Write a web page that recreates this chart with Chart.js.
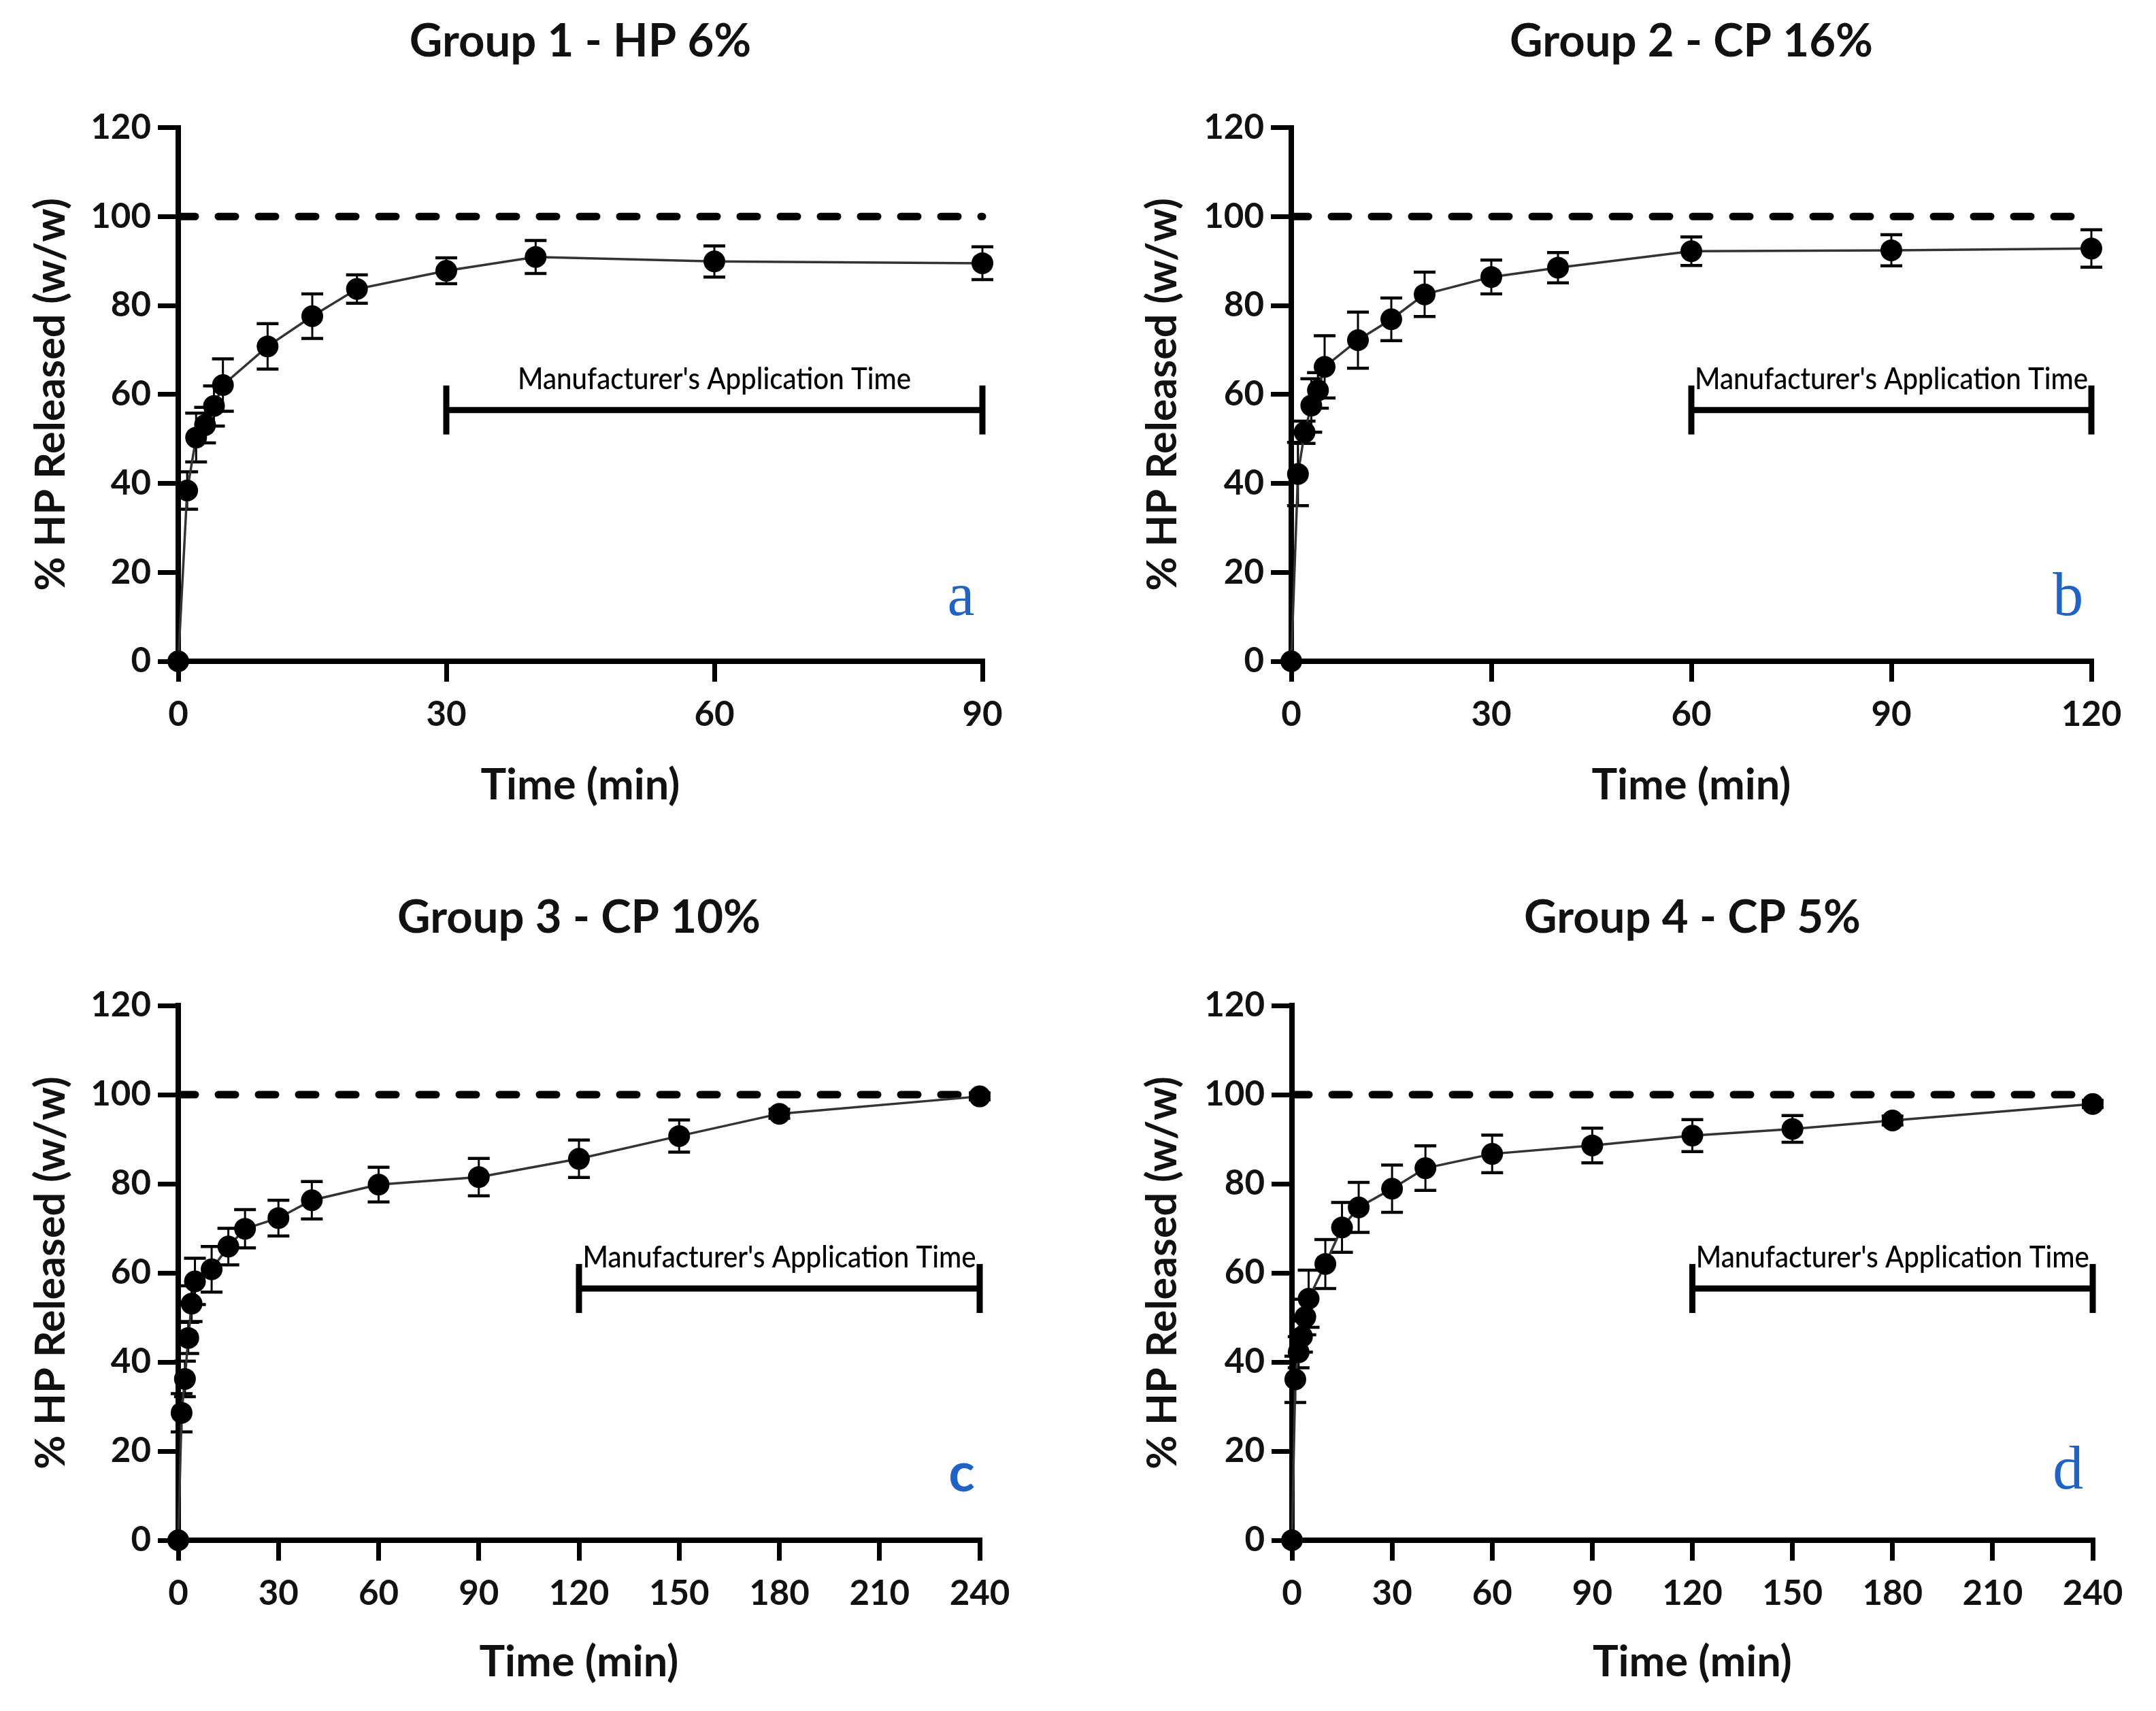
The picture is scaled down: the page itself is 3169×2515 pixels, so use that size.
<!DOCTYPE html>
<html><head><meta charset="utf-8">
<script src="https://cdn.jsdelivr.net/npm/chart.js@4.4.0/dist/chart.umd.min.js"></script>
<style>
html,body{margin:0;padding:0;background:#fff;}
#page{position:relative;width:3169px;height:2515px;background:#fff;overflow:hidden;}
.panel{position:absolute;}
</style></head><body>
<div id="page">
<div class="panel" style="left:0;top:0;width:1584px;height:1257px"><canvas id="ca"></canvas></div>
<div class="panel" style="left:1584px;top:0;width:1585px;height:1257px"><canvas id="cb"></canvas></div>
<div class="panel" style="left:0;top:1257px;width:1584px;height:1258px"><canvas id="cc"></canvas></div>
<div class="panel" style="left:1584px;top:1257px;width:1585px;height:1258px"><canvas id="cd"></canvas></div>
</div>
<script>
// ---------- data ----------
const titleA = 'Group 1 - HP 6%';
const titleB = 'Group 2 - CP 16%';
const titleC = 'Group 3 - CP 10%';
const titleD = 'Group 4 - CP 5%';
const xAxisTitle = 'Time (min)';
const yAxisTitle = '% HP Released (w/w)';
const appLabel = "Manufacturer's Application Time";
const panelLetters = ['a', 'b', 'c', 'd'];

const yTicks = [0, 20, 40, 60, 80, 100, 120];
const xTicksA = [0, 30, 60, 90];
const xTicksB = [0, 30, 60, 90, 120];
const xTicksCD = [0, 30, 60, 90, 120, 150, 180, 210, 240];

const timesA = [0, 1, 2, 3, 4, 5, 10, 15, 20, 30, 40, 60, 90];
const meanA  = [0, 38.4, 50.3, 53.1, 57.4, 62.1, 70.8, 77.6, 83.7, 87.8, 90.9, 89.9, 89.5];
const sdA    = [0, 4.2, 5.5, 4.0, 4.5, 5.9, 5.1, 5.0, 3.2, 2.9, 3.7, 3.5, 3.7];

const timesB = [0, 1, 2, 3, 4, 5, 10, 15, 20, 30, 40, 60, 90, 120];
const meanB  = [0, 42.1, 51.5, 57.5, 60.9, 66.2, 72.2, 76.9, 82.5, 86.4, 88.5, 92.2, 92.4, 92.8];
const sdB    = [0, 7.1, 2.5, 6.0, 4.0, 7.0, 6.3, 4.8, 5.0, 3.8, 3.4, 3.2, 3.5, 4.2];

const timesCD = [0, 1, 2, 3, 4, 5, 10, 15, 20, 30, 40, 60, 90, 120, 150, 180, 240];
const meanC  = [0, 28.6, 36.2, 45.4, 53.1, 58.1, 60.8, 65.9, 69.9, 72.3, 76.3, 79.8, 81.5, 85.6, 90.7, 95.7, 99.6];
const sdC    = [0, 4.3, 4.0, 3.5, 4.0, 5.2, 5.1, 4.1, 4.3, 4.0, 4.2, 3.9, 4.2, 4.2, 3.6, 1.0, 0.8];
const meanD  = [0, 36.1, 42.2, 45.7, 50.1, 54.2, 62.0, 70.2, 74.7, 78.9, 83.5, 86.7, 88.6, 90.8, 92.3, 94.2, 97.9];
const sdD    = [0, 5.2, 3.5, 3.5, 4.0, 6.4, 5.5, 5.6, 5.6, 5.3, 5.0, 4.2, 3.9, 3.6, 3.0, 1.0, 0.8];

const referenceLevel = 100;
const appLevel = 56.5;
const appWindowA = [30, 90];
const appWindowB = [60, 120];
const appWindowCD = [120, 240];
const letterPosA = [87.6, 10.4];
const letterPosB = [116.5, 10.4];
const letterPosC = [234.6, 11.0];
const letterPosD = [232.6, 11.6];

// ---------- layout / style ----------
const INK = '#111';
const LETTER_BLUE = '#2063C8';
const layoutTop = { titleTop: 20.8, titleBottom: 86.3, xHeight: 285, xTitleBottom: 64.2 };
const layoutBottom = { titleTop: 51.8, titleBottom: 88.8, xHeight: 251, xTitleBottom: 33.2 };

const errorBarPlugin = {
  id: 'errorBars',
  beforeDatasetsDraw(chart, args, opts) {
    if (!opts || !opts.sd) return;
    const xs = chart.scales.x, ys = chart.scales.y, ctx = chart.ctx;
    ctx.save();
    ctx.strokeStyle = '#000';
    opts.times.forEach((t, i) => {
      const sd = opts.sd[i];
      if (!sd) return;
      const px = xs.getPixelForValue(t);
      const top = ys.getPixelForValue(opts.mean[i] + sd);
      const bot = ys.getPixelForValue(opts.mean[i] - sd);
      ctx.lineWidth = 3;
      ctx.beginPath(); ctx.moveTo(px, top); ctx.lineTo(px, bot); ctx.stroke();
      ctx.lineWidth = 4.5;
      ctx.beginPath();
      ctx.moveTo(px - 16, top); ctx.lineTo(px + 16, top);
      ctx.moveTo(px - 16, bot); ctx.lineTo(px + 16, bot);
      ctx.stroke();
    });
    ctx.restore();
  }
};

const panelTextPlugin = {
  id: 'panelText',
  afterDatasetsDraw(chart, args, opts) {
    if (!opts || !opts.letter) return;
    const xs = chart.scales.x, ys = chart.scales.y, ctx = chart.ctx;
    ctx.save();
    const cx = (xs.getPixelForValue(opts.app[0]) + xs.getPixelForValue(opts.app[1])) / 2;
    const by = ys.getPixelForValue(appLevel) - 31;
    ctx.font = '500 45px Lato';
    ctx.fillStyle = '#000';
    ctx.textAlign = 'center';
    ctx.textBaseline = 'alphabetic';
    const w = ctx.measureText(appLabel).width;
    const sx = 578 / w;
    ctx.translate(cx, by);
    ctx.scale(sx, 1);
    ctx.fillText(appLabel, 0, 0);
    ctx.restore();
    ctx.save();
    ctx.font = opts.letterFont;
    ctx.fillStyle = LETTER_BLUE;
    ctx.textAlign = 'center';
    ctx.textBaseline = 'alphabetic';
    ctx.fillText(opts.letter, xs.getPixelForValue(opts.letterPos[0]), ys.getPixelForValue(opts.letterPos[1]));
    ctx.restore();
  }
};

function makeChart(id, p) {
  const L = p.layout;
  const xMin = p.xTicks[0], xMax = p.xTicks[p.xTicks.length - 1];
  return new Chart(document.getElementById(id), {
    type: 'line',
    data: {
      datasets: [
        {
          data: p.times.map((t, i) => ({ x: t, y: p.mean[i] })),
          borderColor: '#333', borderWidth: 3.5,
          pointRadius: 16, pointBackgroundColor: '#000', pointBorderColor: '#000', pointBorderWidth: 0,
          clip: false, tension: 0
        },
        {
          data: [{ x: p.app[0], y: appLevel }, { x: p.app[1], y: appLevel }],
          borderColor: '#000', borderWidth: 9,
          pointStyle: 'line', rotation: 90, pointRadius: 36, pointBorderWidth: 9, pointBorderColor: '#000',
          clip: false
        },
        {
          data: [{ x: xMin, y: referenceLevel }, { x: xMax, y: referenceLevel }],
          borderColor: '#000', borderWidth: 11, borderDash: [25, 34], borderCapStyle: 'round',
          pointRadius: 0, clip: false
        }
      ]
    },
    options: {
      responsive: true, maintainAspectRatio: false, animation: false, devicePixelRatio: 1,
      events: [],
      layout: { padding: { left: 0, right: p.padRight, top: 0, bottom: 0 } },
      plugins: {
        legend: { display: false },
        tooltip: { enabled: false },
        title: {
          display: true, text: p.title, fullSize: false, color: INK,
          font: { family: 'Lato', weight: 'bold', size: 67 },
          padding: { top: L.titleTop, bottom: L.titleBottom }
        },
        errorBars: { times: p.times, mean: p.mean, sd: p.sd },
        panelText: { app: p.app, letter: p.letter, letterPos: p.letterPos, letterFont: p.letterFont }
      },
      scales: {
        x: {
          type: 'linear', min: xMin, max: xMax,
          afterBuildTicks: s => { s.ticks = p.xTicks.map(v => ({ value: v })); },
          afterFit: s => { s.height = L.xHeight; },
          grid: { display: true, drawOnChartArea: false, drawTicks: true, tickLength: 30, lineWidth: 7, tickWidth: 7, tickColor: '#000', color: '#000' },
          border: { display: true, width: 8, color: '#000' },
          ticks: { color: INK, font: { family: 'Lato', weight: 'bold', size: 51 }, padding: 18, maxRotation: 0, autoSkip: false },
          title: { display: true, text: xAxisTitle, color: INK, font: { family: 'Lato', weight: 'bold', size: 63 }, padding: { top: 0, bottom: L.xTitleBottom } }
        },
        y: {
          type: 'linear', position: 'left', min: 0, max: 120,
          afterBuildTicks: s => { s.ticks = yTicks.map(v => ({ value: v })); },
          afterFit: s => { s.width = p.yWidth; },
          grid: { display: true, drawOnChartArea: false, drawTicks: true, tickLength: 30, lineWidth: 7, tickWidth: 7, tickColor: '#000', color: '#000' },
          border: { display: true, width: 8, color: '#000' },
          ticks: { color: INK, font: { family: 'Lato', weight: 'bold', size: 51 }, padding: 10 },
          title: { display: true, text: yAxisTitle, color: INK, font: { family: 'Lato', weight: 'bold', size: 61 }, padding: { top: p.yTitleTop, bottom: 0 } }
        }
      }
    },
    plugins: [errorBarPlugin, panelTextPlugin]
  });
}

makeChart('ca', { title: titleA, times: timesA, mean: meanA, sd: sdA, xTicks: xTicksA, app: appWindowA,
  letter: panelLetters[0], letterPos: letterPosA, letterFont: '90px "Liberation Serif"',
  layout: layoutTop, padRight: 140, yWidth: 262, yTitleTop: 38.4 });
makeChart('cb', { title: titleB, times: timesB, mean: meanB, sd: sdB, xTicks: xTicksB, app: appWindowB,
  letter: panelLetters[1], letterPos: letterPosB, letterFont: '90px "Liberation Serif"',
  layout: layoutTop, padRight: 95, yWidth: 314, yTitleTop: 88.4 });
makeChart('cc', { title: titleC, times: timesCD, mean: meanC, sd: sdC, xTicks: xTicksCD, app: appWindowCD,
  letter: panelLetters[2], letterPos: letterPosC, letterFont: 'bold 80px Lato',
  layout: layoutBottom, padRight: 144, yWidth: 262, yTitleTop: 38.4 });
makeChart('cd', { title: titleD, times: timesCD, mean: meanD, sd: sdD, xTicks: xTicksCD, app: appWindowCD,
  letter: panelLetters[3], letterPos: letterPosD, letterFont: '90px "Liberation Serif"',
  layout: layoutBottom, padRight: 93, yWidth: 315, yTitleTop: 88.4 });
</script>
</body></html>
